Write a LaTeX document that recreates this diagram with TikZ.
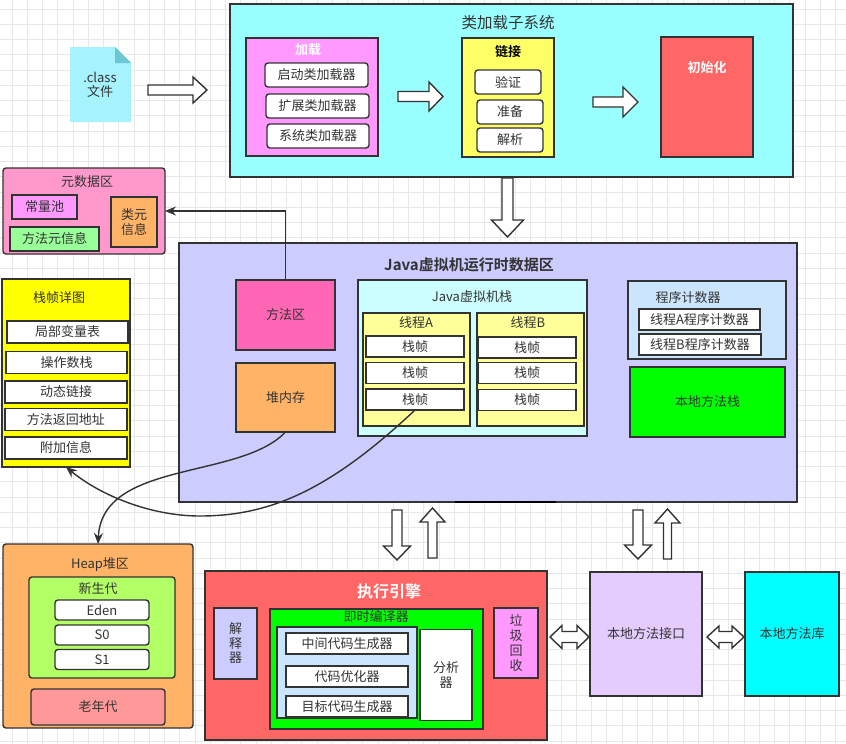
\documentclass[tikz,border=0pt]{standalone}
\usepackage{fontspec}
\setmainfont{Noto Sans CJK SC}[BoldFont={Noto Sans CJK SC Bold}]
\usetikzlibrary{arrows.meta}
\definecolor{ln}{HTML}{333333}
\definecolor{tx}{HTML}{333333}
\definecolor{gridc}{HTML}{E8E8E8}
\definecolor{cCls}{HTML}{99FFFF}
\definecolor{cFile}{HTML}{A6F2FF}
\definecolor{cFold}{HTML}{6CC8D0}
\definecolor{cLoad}{HTML}{FF99FF}
\definecolor{cLink}{HTML}{FFFF66}
\definecolor{cInit}{HTML}{FF6666}
\definecolor{cMeta}{HTML}{FF99CC}
\definecolor{cGreenL}{HTML}{99FF99}
\definecolor{cOrange}{HTML}{FFB366}
\definecolor{cRt}{HTML}{CCCCFF}
\definecolor{cMethod}{HTML}{FF66B3}
\definecolor{cJvms}{HTML}{CCFFFF}
\definecolor{cThread}{HTML}{FFFF99}
\definecolor{cPc}{HTML}{CCE5FF}
\definecolor{cGreen}{HTML}{00FF00}
\definecolor{cYellow}{HTML}{FFFF00}
\definecolor{cYoung}{HTML}{B3FF66}
\definecolor{cOld}{HTML}{FF9999}
\definecolor{cJni}{HTML}{E5CCFF}
\definecolor{cLib}{HTML}{00FFFF}
\newcommand{\varrow}[6]{%
\draw[blk] (#1-#5,#2) -- (#1-#5,#3) -- (#1-#6,#3) -- (#1,#4) -- (#1+#6,#3) -- (#1+#5,#3) -- (#1+#5,#2) -- cycle;}
\newcommand{\harrow}[6]{%
\draw[blk] (#2,#1-#5) -- (#3,#1-#5) -- (#3,#1-#6) -- (#4,#1) -- (#3,#1+#6) -- (#3,#1+#5) -- (#2,#1+#5) -- cycle;}
\newcommand{\dharrow}[7]{%
\draw[blk] (#2,#1) -- (#3,#1-#7) -- (#3,#1-#6) -- (#4,#1-#6) -- (#4,#1-#7) -- (#5,#1) -- (#4,#1+#7) -- (#4,#1+#6) -- (#3,#1+#6) -- (#3,#1+#7) -- cycle;}
\begin{document}
\begin{tikzpicture}[x=1pt,y=-1pt,
  bx/.style={draw=ln, line width=1.4pt, inner sep=0pt, outer sep=0pt, text=tx,
     font=\fontsize{13}{15}\selectfont, align=center},
  wh/.style 2 args={minimum width=#1pt, minimum height=#2pt},
  rnd/.style={rounded corners=3pt},
  lbl/.style={inner sep=0pt, text=tx, font=\fontsize{13}{15}\selectfont, align=center},
  ttl/.style={inner sep=0pt, text=tx, font=\fontsize{15.5}{18}\selectfont},
  wttl/.style={inner sep=0pt, text=white, font=\fontsize{13}{15}\selectfont\bfseries},
  blk/.style={draw=ln, line width=1.4pt, fill=white, line join=miter},
  con/.style={draw=ln, line width=1.4pt, -{Stealth[length=11pt,width=9pt]}},
]
\useasboundingbox (0,0) rectangle (846,744);
\fill[white] (0,0) rectangle (846,744);
\foreach \k in {0,...,55} {\draw[gridc, line width=0.8pt] (12+15.25*\k,0) -- (12+15.25*\k,744);}
\foreach \k in {0,...,48} {\draw[gridc, line width=0.8pt] (0,9+15.25*\k) -- (846,9+15.25*\k);}

% ---------- class loader subsystem ----------
\node[bx, fill=cCls, wh={563}{173}] (cls) at (511.5,90.5) {};
\node[ttl] (clsT) at (508,23) {类加载子系统};
\fill[cFile] (70,47) -- (115,47) -- (131,63) -- (131,122) -- (70,122) -- cycle;
\fill[cFold] (115,47) -- (131,63) -- (115,63) -- cycle;
\node[lbl, font=\fontsize{13}{14}\selectfont] (file) at (100,85) {.class\\文件};

\node[bx, fill=cLoad, wh={132}{118}] (load) at (312,97) {};
\node[wttl] (loadT) at (308,50) {加载};
\node[bx, rnd, fill=white, wh={103}{24}] (boot) at (316.5,75) {启动类加载器};
\node[bx, rnd, fill=white, wh={103}{24}] (ext) at (317.5,106) {扩展类加载器};
\node[bx, rnd, fill=white, wh={102}{24}] (sys) at (318,136) {系统类加载器};

\node[bx, fill=cLink, wh={92}{119}] (link) at (508,97.5) {};
\node[inner sep=0pt, text=black, font=\fontsize{13}{15}\selectfont\bfseries] (linkT) at (508,52) {链接};
\node[bx, rnd, fill=white, wh={66}{24}] (verify) at (508,82) {验证};
\node[bx, rnd, fill=white, wh={66}{24}] (prep) at (510,112) {准备};
\node[bx, rnd, fill=white, wh={66}{24}] (resolve) at (510,140) {解析};

\node[bx, fill=cInit, wh={92}{120}] (init) at (707,97) {};
\node[wttl] (initT) at (707,68) {初始化};

% ---------- metadata ----------
\node[bx, rnd, fill=cMeta, wh={162}{86}] (meta) at (84,211) {};
\node[lbl] (metaT) at (87,182) {元数据区};
\node[bx, fill=cLoad, wh={65}{24}] (cpool) at (44.5,207) {常量池};
\node[bx, fill=cGreenL, wh={89}{24}] (mmeta) at (54.5,239) {方法元信息};
\node[bx, fill=cOrange, wh={46}{50}, font=\fontsize{13}{14.5}\selectfont] (cmeta) at (134,222) {类元\\信息};

% ---------- runtime data area ----------
\node[bx, fill=cRt, wh={618}{259}] (rt) at (488,372.5) {};
\node[ttl, font=\fontsize{15}{18}\selectfont\bfseries] (rtT) at (469,265) {Java虚拟机运行时数据区};
\draw[black, line width=2.6pt] (455,502) -- (556,502);
\node[bx, fill=cMethod, wh={99}{70}] (method) at (285.5,315) {方法区};
\node[bx, fill=cOrange, wh={99}{69}] (heapmem) at (285.5,397.5) {堆内存};

\node[bx, fill=cJvms, wh={229}{156}] (jvms) at (472.5,358) {};
\node[lbl] (jvmsT) at (472,297) {Java虚拟机栈};
\node[bx, fill=cThread, wh={107}{113}] (thA) at (416.5,369.5) {};
\node[lbl] (thAT) at (416,323) {线程A};
\node[bx, fill=white, wh={98}{21}] (a1) at (415,346.5) {栈帧};
\node[bx, fill=white, wh={98}{21}] (a2) at (415,373) {栈帧};
\node[bx, fill=white, wh={98}{21}] (a3) at (415,399.5) {栈帧};
\node[bx, fill=cThread, wh={107}{113}] (thB) at (530.5,369.5) {};
\node[lbl] (thBT) at (528,323) {线程B};
\node[bx, fill=white, wh={98}{21}] (b1) at (527,347.5) {栈帧};
\node[bx, fill=white, wh={98}{21}] (b2) at (527,373) {栈帧};
\node[bx, fill=white, wh={98}{21}] (b3) at (527,400) {栈帧};

\node[bx, fill=cPc, wh={158}{78}] (pc) at (707,320) {};
\node[lbl] (pcT) at (688,298) {程序计数器};
\node[bx, fill=white, wh={121}{21}] (pcA) at (699.5,319.5) {线程A程序计数器};
\node[bx, fill=white, wh={122}{21}] (pcB) at (700,344.5) {线程B程序计数器};
\node[bx, fill=cGreen, wh={155}{70}] (nstack) at (707.5,402) {本地方法栈};

% ---------- frame detail ----------
\node[bx, fill=cYellow, wh={128}{188}] (fd) at (66,373) {};
\node[lbl] (fdT) at (59,298) {栈帧详图};
\node[bx, fill=white, wh={121}{22}] (f1) at (67.5,332) {局部变量表};
\node[bx, fill=white, wh={121}{22}] (f2) at (66.5,362.5) {操作数栈};
\node[bx, fill=white, wh={122}{22}] (f3) at (66,392) {动态链接};
\node[bx, fill=white, wh={122}{22}] (f4) at (66,419.5) {方法返回地址};
\node[bx, fill=white, wh={122}{22}] (f5) at (66,448) {附加信息};

% ---------- heap ----------
\node[bx, rnd, fill=cOrange, wh={190}{184}] (heap) at (98,636) {};
\node[lbl] (heapT) at (100,565) {Heap堆区};
\node[bx, rnd, fill=cYoung, wh={146}{101}] (young) at (102,627.5) {};
\node[lbl] (youngT) at (98,589) {新生代};
\node[bx, rnd, fill=white, wh={94}{20}] (eden) at (102,610) {Eden};
\node[bx, rnd, fill=white, wh={94}{20}] (s0) at (102,635) {S0};
\node[bx, rnd, fill=white, wh={94}{20}] (s1) at (102,659.5) {S1};
\node[bx, rnd, fill=cOld, wh={134}{36}] (old) at (98,707) {老年代};

% ---------- execution engine ----------
\node[bx, fill=cInit, wh={342}{169}] (exec) at (376,655.5) {};
\node[inner sep=0pt, text=white, font=\fontsize{16}{18}\selectfont\bfseries] (execT) at (389,591) {执行引擎};
\node[bx, fill=cRt, wh={43}{71}, font=\fontsize{13}{14.5}\selectfont] (interp) at (235.5,643.5) {解\\释\\器};
\node[bx, fill=cGreen, wh={213}{120}] (jit) at (376.5,669) {};
\node[lbl] (jitT) at (376,617) {即时编译器};
\node[bx, fill=cPc, wh={140}{91}] (jitin) at (347,672.5) {};
\node[bx, fill=white, wh={122}{21}] (ir) at (347,643.5) {中间代码生成器};
\node[bx, fill=white, wh={122}{21}] (opt) at (347,676.5) {代码优化器};
\node[bx, fill=white, wh={122}{21}] (tgt) at (347,706.5) {目标代码生成器};
\node[bx, fill=white, wh={52}{91}, font=\fontsize{13}{15}\selectfont] (anal) at (446,675) {分析\\器};
\node[bx, fill=cLoad, wh={44}{70}, font=\fontsize{13}{15.3}\selectfont] (gc) at (516,643) {垃\\圾\\回\\收};
\node[bx, fill=cJni, wh={112}{124}] (jni) at (646,634) {本地方法接口};
\node[bx, fill=cLib, wh={94}{124}] (nlib) at (792,634) {本地方法库};

% ---------- block arrows ----------
\harrow{90}{148}{193}{207}{5}{13}
\harrow{96.5}{398}{429}{443}{5}{14.5}
\harrow{102}{593}{623}{638}{5}{15}
\varrow{507.5}{178}{220}{237}{5.5}{16}
\varrow{397}{510}{546}{560}{5}{13.5}
\varrow{432.5}{558}{522}{508}{4.5}{12.5}
\varrow{638}{510}{545}{559}{5}{13.5}
\varrow{667.5}{559}{523}{509}{4}{12.5}
\dharrow{637}{550}{562}{577}{589}{5.5}{11.5}
\dharrow{637}{707}{719}{732}{744}{5.5}{11}

% ---------- connectors ----------
\draw[con] (method.north) |- (meta.east);
\draw[con] (heapmem.south) .. controls (240,480) and (102,460) .. (heap.north);
\coordinate (via) at (200,516);
\draw[con] (a3.south) .. controls (330,490) and (270,516) .. (via) .. controls (150,516) and (100,495) .. (fd.south);
\end{tikzpicture}
\end{document}
